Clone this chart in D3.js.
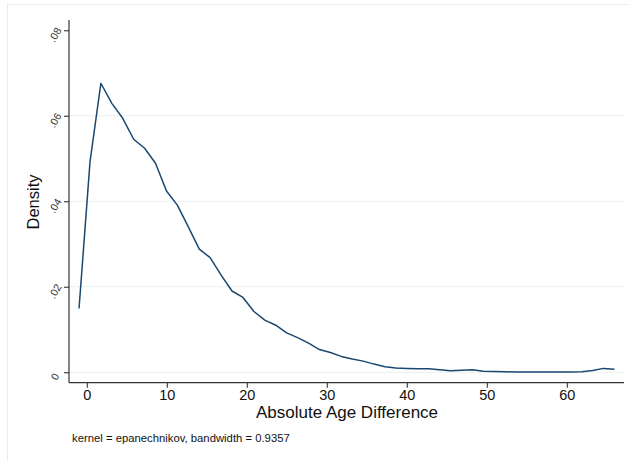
<!DOCTYPE html>
<html>
<head>
<meta charset="utf-8">
<script src="https://cdn.jsdelivr.net/npm/d3@7"></script>
<style>
  html, body { margin: 0; padding: 0; background: #ffffff; }
  svg { display: block; font-family: "Liberation Sans", Arial, Helvetica, sans-serif; }
</style>
</head>
<body>
<svg id="chart" width="629" height="460"></svg>
<script>
// ---- data ----
const ageGrid = [-0.97, 0.40, 1.76, 3.13, 4.49, 5.86, 7.23, 8.59, 9.96, 11.32,
  12.69, 14.06, 15.42, 16.79, 18.15, 19.52, 20.89, 22.25, 23.62, 24.98,
  26.35, 27.72, 29.08, 30.45, 31.81, 33.18, 34.55, 35.91, 37.28, 38.64,
  40.01, 41.38, 42.74, 44.11, 45.47, 46.84, 48.21, 49.57, 50.94, 52.30,
  53.67, 55.04, 56.40, 57.77, 59.13, 60.50, 61.87, 63.23, 64.60, 65.96];
const densityValues = [0.0149, 0.0492, 0.0676, 0.0629, 0.0594, 0.0545, 0.0524, 0.0489, 0.0424, 0.0391,
  0.0340, 0.0288, 0.0268, 0.0227, 0.0190, 0.0175, 0.0142, 0.0122, 0.0110, 0.0092,
  0.0081, 0.0068, 0.0053, 0.0046, 0.0037, 0.0031, 0.0026, 0.0019, 0.0013, 0.0010,
  0.0009, 0.0008, 0.0008, 0.00056, 0.00033, 0.00047, 0.00056, 0.00023, 0.00016, 0.0001,
  0.00005, 0.00005, 0.00004, 0.00004, 0.00004, 0.00004, 0.0001, 0.0004, 0.0009, 0.0007];
const xTicks = [0, 10, 20, 30, 40, 50, 60];
const yTicks = [0, 0.02, 0.04, 0.06, 0.08];
const yTickLabels = ["0", ".02", ".04", ".06", ".08"];
const xTitle = "Absolute Age Difference";
const yTitle = "Density";
const noteText = "kernel = epanechnikov, bandwidth = 0.9357";

// ---- layout ----
const svg = d3.select("#chart");
const plotLeft = 69, plotRight = 624, plotTop = 20, plotBottom = 382.7;

const x = d3.scaleLinear().domain([-2.225, 67.15]).range([plotLeft, plotRight]);
const y = d3.scaleLinear().domain([-0.00245, 0.0824]).range([plotBottom, plotTop]);

// outer frame (light)
svg.append("rect")
  .attr("x", 7.5).attr("y", 4.5).attr("width", 700).attr("height", 600)
  .attr("fill", "none").attr("stroke", "#e6eced").attr("stroke-width", 1);

// gridlines
svg.append("g").selectAll("line")
  .data(yTicks.filter(d => d < 0.07))
  .join("line")
  .attr("x1", plotLeft).attr("x2", plotRight)
  .attr("y1", d => y(d)).attr("y2", d => y(d))
  .attr("stroke", "#e8f0f1").attr("stroke-width", 1.2);

// density line
const line = d3.line()
  .x((d, i) => x(ageGrid[i]))
  .y(d => y(d));
svg.append("path")
  .datum(densityValues)
  .attr("d", line)
  .attr("fill", "none")
  .attr("stroke", "#1a476f")
  .attr("stroke-width", 1.5)
  .attr("stroke-linejoin", "round");

// y axis
const yAxis = d3.axisLeft(y).tickValues(yTicks).tickSize(5).tickFormat("");
const gy = svg.append("g").attr("transform", `translate(${plotLeft},0)`).call(yAxis);
gy.select(".domain").attr("d", `M0,${plotTop}V${plotBottom}`).attr("stroke", "#333").attr("stroke-width", 1.2);
gy.selectAll(".tick line").attr("stroke", "#333").attr("stroke-width", 1.1);
gy.selectAll(".tick").append("text")
  .attr("fill", "#333")
  .attr("font-size", 10.5)
  .attr("text-anchor", "middle")
  .attr("transform", "translate(-14,4) rotate(-60)")
  .attr("dy", "0.35em")
  .text((d, i) => yTickLabels[i]);

// x axis
const xAxis = d3.axisBottom(x).tickValues(xTicks).tickSize(5).tickPadding(3).tickFormat(d3.format("d"));
const gx = svg.append("g").attr("transform", `translate(0,${plotBottom})`).call(xAxis);
gx.select(".domain").attr("d", `M${plotLeft},0H${plotRight}`).attr("stroke", "#333").attr("stroke-width", 1.2);
gx.selectAll(".tick line").attr("stroke", "#333").attr("stroke-width", 1.1);
gx.selectAll(".tick text")
  .attr("font-size", 14.5)
  .attr("font-family", "Liberation Sans, Arial, sans-serif")
  .attr("fill", "#111")
  .attr("dy", null)
  .attr("y", 17.5);

// titles
svg.append("text")
  .attr("x", (plotLeft + plotRight) / 2 + 0.5)
  .attr("y", 418)
  .attr("text-anchor", "middle")
  .attr("font-size", 17)
  .attr("fill", "#111")
  .text(xTitle);

svg.append("text")
  .attr("transform", "translate(39,202) rotate(-90)")
  .attr("text-anchor", "middle")
  .attr("font-size", 16.5)
  .attr("fill", "#111")
  .text(yTitle);

svg.append("text")
  .attr("x", 72)
  .attr("y", 442)
  .attr("font-size", 11.3)
  .attr("fill", "#111")
  .text(noteText);
</script>
</body>
</html>
